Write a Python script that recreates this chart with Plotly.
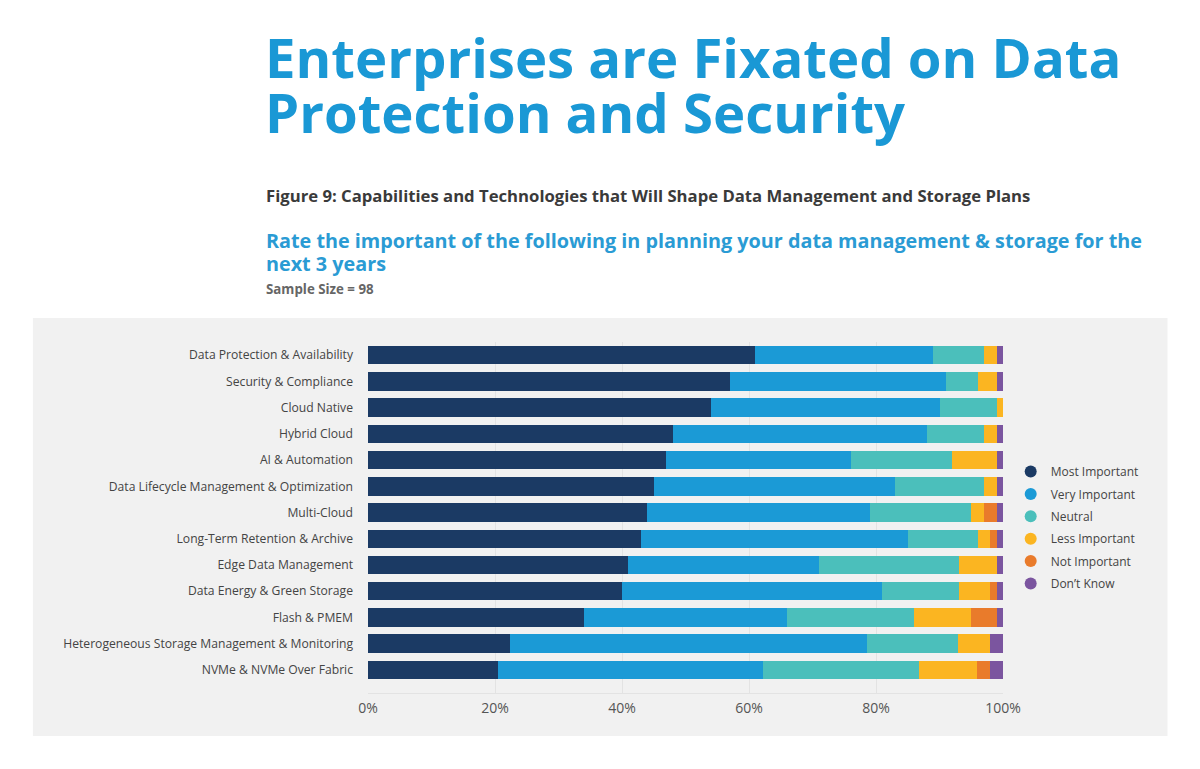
import plotly.graph_objects as go

categories = [
    "Data Protection & Availability",
    "Security & Compliance",
    "Cloud Native",
    "Hybrid Cloud",
    "AI & Automation",
    "Data Lifecycle Management & Optimization",
    "Multi-Cloud",
    "Long-Term Retention & Archive",
    "Edge Data Management",
    "Data Energy & Green Storage",
    "Flash & PMEM",
    "Heterogeneous Storage Management & Monitoring",
    "NVMe & NVMe Over Fabric",
]

most_important = [61, 57, 54, 48, 47, 45, 44, 43, 41, 40, 34, 22.4, 20.4]
very_important = [28, 34, 36, 40, 29, 38, 35, 42, 30, 41, 32, 56.2, 41.8]
neutral =        [8, 5, 9, 9, 16, 14, 16, 11, 22, 12, 20, 14.3, 24.5]
less_important = [2, 3, 1, 2, 7, 2, 2, 2, 6, 5, 9, 5.1, 9.2]
not_important =  [0, 0, 0, 0, 0, 0, 2, 1, 0, 1, 4, 0, 2.1]
dont_know =      [1, 1, 0, 1, 1, 1, 1, 1, 1, 1, 1, 2.0, 2.0]

series_names = ["Most Important", "Very Important", "Neutral",
                "Less Important", "Not Important", "Don\u2019t Know"]
series_values = [most_important, very_important, neutral,
                 less_important, not_important, dont_know]
colors = ["#1b3a64", "#1b9ad6", "#4bbfbb", "#fbb521", "#e97b2b", "#7b559f"]

x_ticks = [0, 20, 40, 60, 80, 100]

W, H = 1200, 769
PL, PR, PT, PB = 367.5, 1003.3, 342, 693


def px_x(px):
    return (px - PL) / (PR - PL)


def px_y(py):
    return (PB - py) / (PB - PT)


fig = go.Figure()

for name, vals, col in zip(series_names, series_values, colors):
    fig.add_trace(go.Bar(
        y=categories, x=vals, name=name, orientation="h",
        marker=dict(color=col, line=dict(width=0)),
        showlegend=False, legendgroup=name,
        hovertemplate="%{y}<br>" + name + ": %{x}%<extra></extra>",
    ))

for name, col in zip(series_names, colors):
    fig.add_trace(go.Scatter(
        x=[None], y=[None], mode="markers", name=name,
        marker=dict(color=col, size=12, symbol="circle"),
        legendgroup=name, showlegend=True,
    ))

FONT = "Open Sans"

fig.update_layout(
    width=W, height=H,
    margin=dict(l=PL, r=W - PR, t=PT, b=H - PB, autoexpand=False),
    paper_bgcolor="white",
    plot_bgcolor="rgba(0,0,0,0)",
    barmode="stack",
    bargap=0.295,
    font=dict(family=FONT, color="#444444", size=12),
    showlegend=True,
    legend=dict(
        x=px_x(1011), xanchor="left",
        y=px_y(527.5), yanchor="middle",
        font=dict(family=FONT, size=12, color="#444444"),
        bgcolor="rgba(0,0,0,0)",
        tracegroupgap=3.4,
        itemwidth=30,
    ),
    xaxis=dict(
        range=[0, 100],
        tickvals=x_ticks,
        ticktext=[f"{v}%" for v in x_ticks],
        showgrid=True, gridcolor="#e3e3e3", gridwidth=1,
        zeroline=False,
        showline=True, linecolor="#e3e3e3", linewidth=1,
        tickfont=dict(family=FONT, size=14, color="#555555"),
        ticklabelstandoff=2,
        fixedrange=True,
    ),
    yaxis=dict(
        type="category",
        categoryorder="array", categoryarray=categories,
        range=[12.88, -0.5],
        showgrid=False, zeroline=False, showline=False,
        ticks="", ticklabelstandoff=14,
        tickfont=dict(family=FONT, size=12.15, color="#444444"),
        fixedrange=True,
    ),
    shapes=[dict(
        type="rect", xref="paper", yref="paper",
        x0=px_x(32), x1=px_x(1168), y0=px_y(736), y1=px_y(318),
        fillcolor="#f1f1f1", line=dict(width=0), layer="below",
    )],
)

annotations = [
    dict(text="<b>Enterprises are Fixated on Data</b>", px=262, py=75,
         size=54.5, color="#1a98d5"),
    dict(text="<b>Protection and Security</b>", px=262, py=130,
         size=54.5, color="#1a98d5"),
    dict(text="<b>Figure 9: Capabilities and Technologies that Will Shape Data Management and Storage Plans</b>",
         px=263, py=201.5, size=16.7, color="#3a3a3a"),
    dict(text="<b>Rate the important of the following in planning your data management &amp; storage for the</b>",
         px=263, py=247, size=19.8, color="#2a9bd4"),
    dict(text="<b>next 3 years</b>", px=263, py=270, size=19.8, color="#2a9bd4"),
    dict(text="<b>Sample Size = 98</b>", px=263.5, py=293.5, size=13.3, color="#666666"),
]

for a in annotations:
    center_py = a["py"] - a["size"] * 0.33
    fig.add_annotation(
        text=a["text"], xref="paper", yref="paper",
        x=px_x(a["px"]), y=px_y(center_py),
        xanchor="left", yanchor="middle", showarrow=False,
        font=dict(family=FONT, size=a["size"], color=a["color"]),
        align="left",
    )

fig.write_html("out.html")
